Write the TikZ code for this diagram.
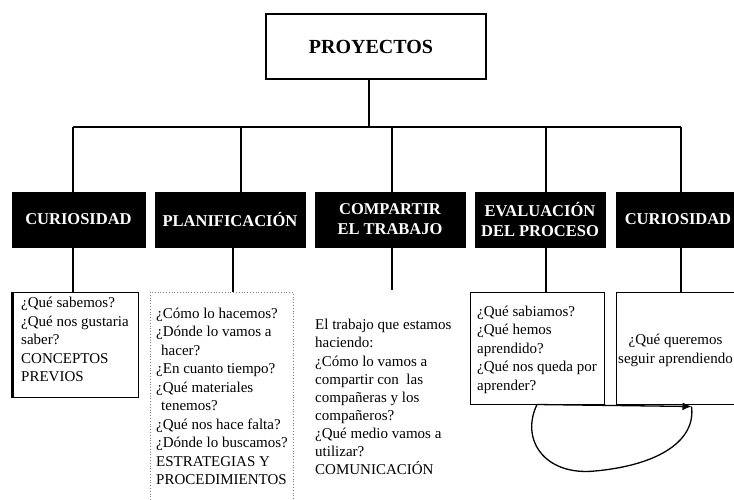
\documentclass[tikz,border=0pt]{standalone}
\usepackage{fontspec}
\setmainfont{Liberation Serif}
\usetikzlibrary{arrows.meta}
\begin{document}
\begin{tikzpicture}[x=1pt,y=-1pt,
  blackbox/.style={draw=black, fill=black, text=white, font=\fontsize{16.5}{20}\selectfont\bfseries, align=center, minimum height=55pt, inner sep=0pt},
  body/.style={font=\fontsize{15}{18.5}\selectfont, align=left, inner sep=0pt, anchor=north west},
  conn/.style={line width=1.4pt},
  qbox/.style={draw, line width=1pt, inner sep=0pt},
  dotbox/.style={draw=gray, dotted, line width=0.8pt, inner sep=0pt},
  title/.style={draw, line width=1.4pt, inner sep=0pt, font=\fontsize{20}{22}\selectfont\bfseries}]
\useasboundingbox (0,0) rectangle (734,499);

% top box
\node[title, minimum width=220pt, minimum height=65pt] (proj) at (376,46.5) {PROYECTOS\hspace*{10pt}};

% black boxes
\node[blackbox, minimum width=133pt] (c1) at (78.5,219.5) {CURIOSIDAD};
\node[blackbox, minimum width=150pt] (c2) at (230,219.5) {PLANIFICACIÓN};
\node[blackbox, minimum width=150pt] (c3) at (390,219.5) {COMPARTIR\\EL TRABAJO};
\node[blackbox, minimum width=130pt] (c4) at (540,219.5) {EVALUACIÓN\\DEL PROCESO};
\node[blackbox, minimum width=124pt] (c5) at (678,219.5) {CURIOSIDAD};

% bottom boxes
\node[qbox, minimum width=125pt, minimum height=105pt] (q1) at (75.5,344.5) {};
\draw[line width=3pt] (q1.north west) -- (q1.south west);
\node[dotbox, minimum width=143pt, minimum height=218pt] (q2) at (221.5,401) {};
\node[qbox, minimum width=134pt, minimum height=112pt] (q4) at (537,348) {};
\node[qbox, minimum width=129pt, minimum height=112pt] (q5) at (680.5,348) {};

% texts
\node[body] (t1) at (21,294.5) {\strut¿Qué sabemos?\\¿Qué nos gustaria\\saber?\\CONCEPTOS\\PREVIOS};
\node[body] (t2) at (156,305) {\strut¿Cómo lo hacemos?\\¿Dónde lo vamos a\\\hspace*{5pt}hacer?\\¿En cuanto tiempo?\\¿Qué materiales\\\hspace*{5pt}tenemos?\\¿Qué nos hace falta?\\¿Dónde lo buscamos?\\ESTRATEGIAS Y\\PROCEDIMIENTOS};
\node[body, font=\fontsize{15}{18.1}\selectfont] (t3) at (315,317) {\strut El trabajo que estamos\\haciendo:\\¿Cómo lo vamos a\\compartir con\ \ las\\compañeras y los\\compañeros?\\¿Qué medio vamos a\\utilizar?\\COMUNICACIÓN};
\node[body] (t4) at (477,303) {\strut¿Qué sabiamos?\\¿Qué hemos\\aprendido?\\¿Qué nos queda por\\aprender?};
\node[body, align=center, anchor=north] (t5) at (675.5,331.5) {\strut¿Qué queremos\\seguir aprendiendo};

% bus
\coordinate (t0) at (369,127);
\coordinate (h1) at (73,127);
\coordinate (h2) at (241,127);
\coordinate (h3) at (392,127);
\coordinate (h4) at (546,127);
\coordinate (h5) at (681,127);
\coordinate (g1) at (73,0);
\coordinate (g2) at (233,0);
\coordinate (g3) at (392,0);
\coordinate (g4) at (546,0);
\coordinate (g5) at (681,0);
\coordinate (e3) at (392,290);

\draw[conn] (proj.south -| t0) -- (t0);
\draw[conn] (h1) -- (h5);
\draw[conn] (h1) -- (c1.north -| h1);
\draw[conn] (h2) -- (c2.north -| h2);
\draw[conn] (h3) -- (c3.north -| h3);
\draw[conn] (h4) -- (c4.north -| h4);
\draw[conn] (h5) -- (c5.north -| h5);

\draw[conn] (c1.south -| g1) -- (q1.north -| g1);
\draw[conn] (c2.south -| g2) -- (q2.north -| g2);
\draw[conn] (c3.south -| g3) -- (e3);
\draw[conn] (c4.south -| g4) -- (q4.north -| g4);
\draw[conn] (c5.south -| g5) -- (q5.north -| g5);

% loop arrow
\coordinate (as) at (q4.south);
\coordinate (ae) at ([xshift=76pt,yshift=-2pt]q5.south west);
\draw[line width=1.3pt] (as) .. controls (520,440) and (545,476) .. (595,471) .. controls (660,465) and (696,440) .. (ae);
\draw[line width=1.3pt, -{Latex[length=9pt,width=8pt]}] (as) -- (ae);
\end{tikzpicture}
\end{document}
